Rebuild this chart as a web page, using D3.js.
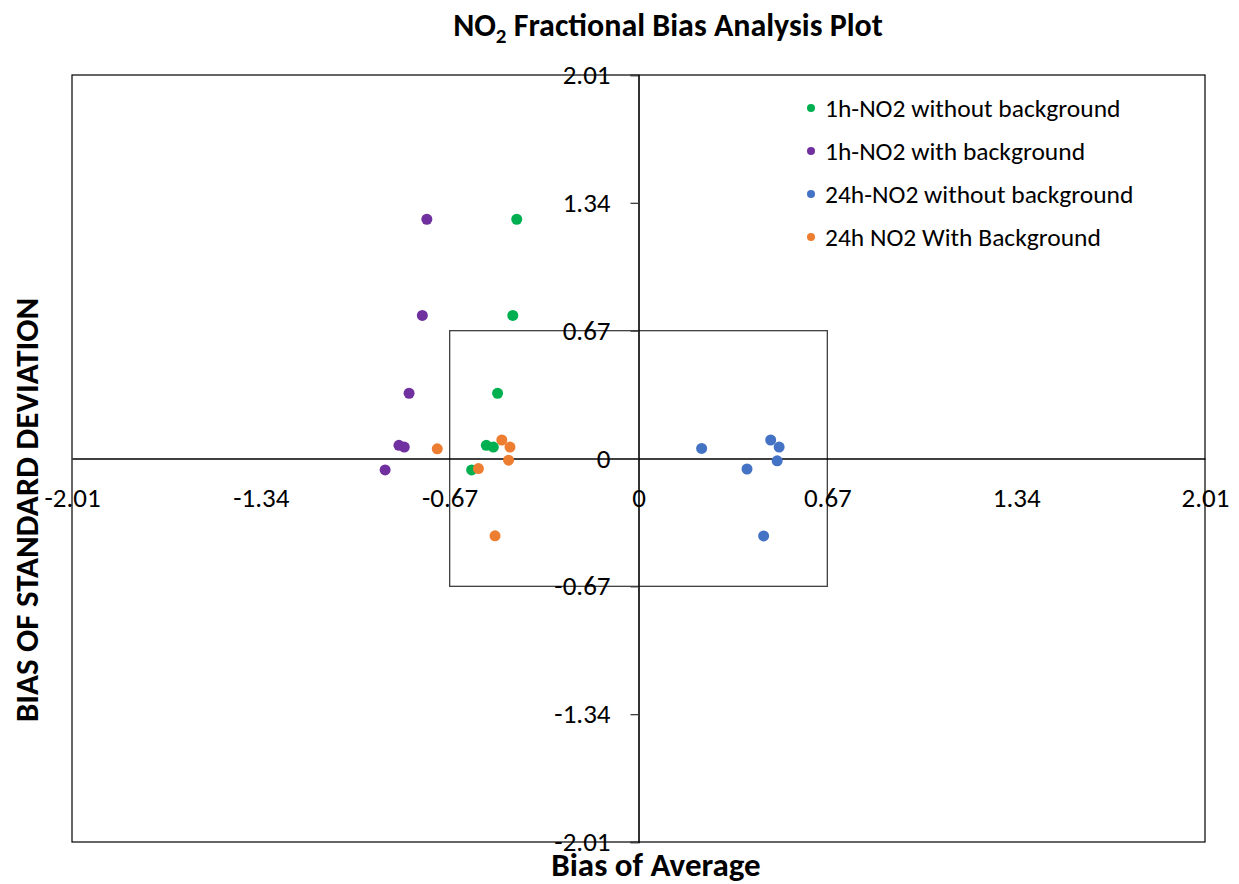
<!DOCTYPE html>
<html>
<head>
<meta charset="utf-8">
<title>NO2 Fractional Bias Analysis Plot</title>
<style>
  body { margin: 0; background: #fff; }
  svg { display: block; }
  text { font-family: Carlito, Lato, "Liberation Sans", sans-serif; fill: #000; }
  .tick text { font-size: 27px; }
  .legend text { font-size: 25.5px; }
</style>
</head>
<body>
<svg width="1239" height="884"></svg>
<script src="https://cdn.jsdelivr.net/npm/d3@7"></script>
<script>
// values
var seriesNames = ['1h-NO2 without background', '1h-NO2 with background', '24h-NO2 without background', '24h NO2 With Background'];
var seriesColors = ['#00b050', '#7030a0', '#4472c4', '#ed7d31'];

var green = [[-0.432, 1.254], [-0.446, 0.750], [-0.500, 0.342], [-0.540, 0.069], [-0.515, 0.060], [-0.592, -0.060]];
var purple = [[-0.751, 1.254], [-0.767, 0.750], [-0.814, 0.342], [-0.850, 0.069], [-0.831, 0.060], [-0.899, -0.060]];
var blue = [[0.224, 0.053], [0.469, 0.097], [0.499, 0.060], [0.492, -0.012], [0.385, -0.055], [0.444, -0.406]];
var orange = [[-0.714, 0.051], [-0.485, 0.097], [-0.456, 0.060], [-0.461, -0.009], [-0.568, -0.053], [-0.509, -0.405]];
var seriesData = [green, purple, blue, orange];

var tickValues = [-2.01, -1.34, -0.67, 0, 0.67, 1.34, 2.01];
var boxLimit = 0.67;

var svg = d3.select('svg');
var plotLeft = 72, plotRight = 1205, plotTop = 75, plotBottom = 842;

var x = d3.scaleLinear().domain([-2.01, 2.01]).range([plotLeft, plotRight]);
var y = d3.scaleLinear().domain([-2.01, 2.01]).range([plotBottom, plotTop]);

// plot border
svg.append('rect')
  .attr('x', plotLeft).attr('y', plotTop)
  .attr('width', plotRight - plotLeft).attr('height', plotBottom - plotTop)
  .attr('fill', 'none').attr('stroke', '#000').attr('stroke-width', 1.2);

// inner +-0.67 box
svg.append('rect')
  .attr('x', x(-boxLimit)).attr('y', y(boxLimit))
  .attr('width', x(boxLimit) - x(-boxLimit)).attr('height', y(-boxLimit) - y(boxLimit))
  .attr('fill', 'none').attr('stroke', '#404040').attr('stroke-width', 1.3);

// plain hyphen for negatives, like the original
var fmt = function(d) { return d === 0 ? '0' : (d < 0 ? '-' : '') + Math.abs(d).toFixed(2); };

var xAxis = svg.append('g')
  .attr('transform', 'translate(0,' + y(0) + ')')
  .call(d3.axisBottom(x).tickValues(tickValues).tickFormat(fmt).tickSize(0).tickPadding(29));
var yAxis = svg.append('g')
  .attr('transform', 'translate(' + x(0) + ',0)')
  .call(d3.axisLeft(y).tickValues(tickValues).tickFormat(fmt).tickSize(8).tickPadding(20));

[xAxis, yAxis].forEach(function(a) {
  a.attr('font-family', null).attr('font-size', null);
  a.select('.domain').attr('stroke', '#000').attr('stroke-width', 1.6);
  a.selectAll('.tick line').attr('stroke', '#404040').attr('stroke-width', 1.3);
  a.selectAll('.tick text').attr('fill', '#000');
});

// points
seriesData.forEach(function(pts, i) {
  svg.append('g').selectAll('circle')
    .data(pts)
    .join('circle')
      .attr('cx', function(d) { return x(d[0]); })
      .attr('cy', function(d) { return y(d[1]); })
      .attr('r', 5.5)
      .attr('fill', seriesColors[i]);
});

// legend
var legend = svg.append('g').attr('class', 'legend');
seriesNames.forEach(function(name, i) {
  var ly = 108 + i * 43;
  legend.append('circle').attr('cx', 811).attr('cy', ly).attr('r', 4).attr('fill', seriesColors[i]);
  legend.append('text').attr('x', 825).attr('y', ly).attr('dy', '0.35em').text(name);
});

// titles
var title = svg.append('text')
  .attr('x', 668).attr('y', 36)
  .attr('text-anchor', 'middle')
  .attr('font-size', 32).attr('font-weight', 'bold');
title.append('tspan').text('NO');
title.append('tspan').attr('font-size', 21).attr('dy', 7).text('2');
title.append('tspan').attr('dy', -7).text(' Fractional Bias Analysis Plot');

svg.append('text')
  .attr('x', 656).attr('y', 876)
  .attr('text-anchor', 'middle')
  .attr('font-size', 33).attr('font-weight', 'bold')
  .text('Bias of Average');

svg.append('text')
  .attr('transform', 'translate(38,510) rotate(-90)')
  .attr('text-anchor', 'middle')
  .attr('font-size', 33).attr('font-weight', 'bold')
  .text('BIAS OF STANDARD DEVIATION');
</script>
</body>
</html>
